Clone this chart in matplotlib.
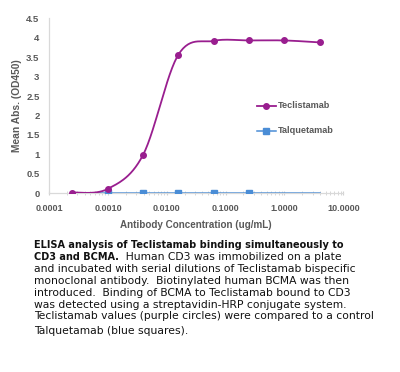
import numpy as np
import matplotlib
matplotlib.use("Agg")
import matplotlib.pyplot as plt
from matplotlib.ticker import FixedLocator, LogLocator, NullFormatter
from matplotlib.lines import Line2D

# ---- data ----
conc = [0.000244, 0.000977, 0.00391, 0.0156, 0.0625, 0.25, 1.0, 4.0]
teclistamab = [0.02, 0.11, 0.98, 3.56, 3.92, 3.93, 3.93, 3.88]
talquetamab = [0.01, 0.01, 0.01, 0.01, 0.01, 0.01, 0.01, 0.01]
x_ticks = [0.0001, 0.001, 0.01, 0.1, 1.0, 10.0]
x_ticklabels = ["0.0001", "0.0010", "0.0100", "0.1000", "1.0000", "10.0000"]
y_ticks = [0, 0.5, 1, 1.5, 2, 2.5, 3, 3.5, 4, 4.5]
y_ticklabels = ["0", "0.5", "1", "1.5", "2", "2.5", "3", "3.5", "4", "4.5"]
series_names = ["Teclistamab", "Talquetamab"]
caption_lines = [
    [("ELISA analysis of Teclistamab binding simultaneously to", "bold")],
    [("CD3 and BCMA.", "bold"), ("  Human CD3 was immobilized on a plate", "normal")],
    [("and incubated with serial dilutions of Teclistamab bispecific", "normal")],
    [("monoclonal antibody.  Biotinylated human BCMA was then", "normal")],
    [("introduced.  Binding of BCMA to Teclistamab bound to CD3", "normal")],
    [("was detected using a streptavidin-HRP conjugate system.", "normal")],
    [("Teclistamab values (purple circles) were compared to a control", "normal")],
    [("Talquetamab (blue squares).", "normal")],
]

PURPLE = "#991E8F"
BLUE = "#4A8DD6"
GRAY = "#595959"
W, H = 400, 372


def smooth(xs, ys, n=30):
    """Spreadsheet-style smoothed line (Catmull-Rom Bezier) in log-x space."""
    lx = np.log10(xs)
    ys = np.asarray(ys, float)
    P = np.column_stack([lx, ys])
    P = np.vstack([P[0], P, P[-1]])
    out = []
    for i in range(1, len(P) - 2):
        p0, p1, p2, p3 = P[i - 1], P[i], P[i + 1], P[i + 2]
        c1 = p1 + (p2 - p0) / 6.0
        c2 = p2 - (p3 - p1) / 6.0
        t = np.linspace(0, 1, n)[:, None]
        seg = ((1 - t) ** 3) * p1 + 3 * ((1 - t) ** 2) * t * c1 + 3 * (1 - t) * t ** 2 * c2 + t ** 3 * p2
        out.append(seg)
    out = np.vstack(out)
    return 10 ** out[:, 0], out[:, 1]


fig = plt.figure(figsize=(W / 100, H / 100), dpi=100)
ax = fig.add_axes([49.3 / W, 1 - 193.3 / H, 294 / W, 175 / H])

# Talquetamab (blue squares)
bx, by = smooth(conc, talquetamab)
ax.plot(bx, by, color=BLUE, lw=1.1, zorder=2)
ax.plot(conc[1:6], talquetamab[1:6], ls="none", marker="s", ms=3.8, color=BLUE, zorder=3)

# Teclistamab (purple circles)
px, py = smooth(conc, teclistamab)
ax.plot(px, py, color=PURPLE, lw=1.3, zorder=4)
ax.plot(conc, teclistamab, ls="none", marker="o", ms=4.0, color=PURPLE, zorder=5)

ax.set_xscale("log")
ax.set_xlim(0.0001, 10)
ax.set_ylim(0, 4.5)
ax.xaxis.set_major_locator(FixedLocator(x_ticks))
ax.set_xticklabels(x_ticklabels)
ax.xaxis.set_minor_locator(LogLocator(base=10, subs=np.arange(2, 10)))
ax.xaxis.set_minor_formatter(NullFormatter())
ax.set_yticks(y_ticks)
ax.set_yticklabels(y_ticklabels)

for s in ["top", "right"]:
    ax.spines[s].set_visible(False)
for s in ["left", "bottom"]:
    ax.spines[s].set_color("#D9D9D9")
    ax.spines[s].set_linewidth(0.9)

ax.tick_params(axis="y", length=0, pad=7, labelsize=6.8, labelcolor=GRAY)
ax.tick_params(axis="x", which="major", length=3, direction="inout", color="#D0D0D0",
               pad=6, labelsize=6.5, labelcolor=GRAY)
ax.tick_params(axis="x", which="minor", length=3, direction="inout", color="#D0D0D0")
for lab in ax.get_xticklabels() + ax.get_yticklabels():
    lab.set_fontweight("bold")
    lab.set_family("Liberation Sans")

ax.set_xlabel("Antibody Concentration (ug/mL)", fontsize=7.1, fontweight="bold",
              color=GRAY, family="Liberation Sans", labelpad=5)
ax.set_ylabel("Mean Abs. (OD450)", fontsize=7.4, fontweight="bold",
              color=GRAY, family="Liberation Sans", labelpad=3)

# legend (drawn in axes coordinates)
leg_items = [(PURPLE, "o", 1.3, 4.0), (BLUE, "s", 1.1, 3.8)]
leg_y = [(193.3 - 106) / 175, (193.3 - 130.7) / 175]
lx0, lx1 = (257 - 49.3) / 294, (276 - 49.3) / 294
for (c, m, lw, ms), yy, name in zip(leg_items, leg_y, series_names):
    ax.add_line(Line2D([lx0, lx1], [yy, yy], color=c, lw=lw, transform=ax.transAxes,
                       clip_on=False))
    ax.add_line(Line2D([(lx0 + lx1) / 2], [yy], color=c, marker=m, ms=ms,
                       transform=ax.transAxes, clip_on=False))
    ax.text(lx1 + 0.008, yy, name, transform=ax.transAxes, va="center", ha="left",
            fontsize=6.6, fontweight="bold", color=GRAY, family="Liberation Sans")

# caption
x0 = 34 / W
base0 = 248.5
gap = 11.8
fs_normal = 7.75
fs_bold = 7.0
for i, parts in enumerate(caption_lines):
    yb = base0 + i * gap
    if i == len(caption_lines) - 1:
        yb += 2.5
    y = 1 - yb / H
    prev = None
    for txt, w in parts:
        size = fs_normal if w == "normal" else fs_bold
        if prev is None:
            prev = fig.text(x0, y, txt, fontsize=size, fontweight=w, family="DejaVu Sans",
                            color="#111111", va="baseline", ha="left")
        else:
            prev = ax.annotate(txt, xy=(1, 0), xycoords=prev, xytext=(0, 0),
                               textcoords="offset points", fontsize=size, fontweight=w,
                               family="DejaVu Sans", color="#111111", va="bottom",
                               ha="left", annotation_clip=False)

fig.savefig("out.png", dpi=100)
